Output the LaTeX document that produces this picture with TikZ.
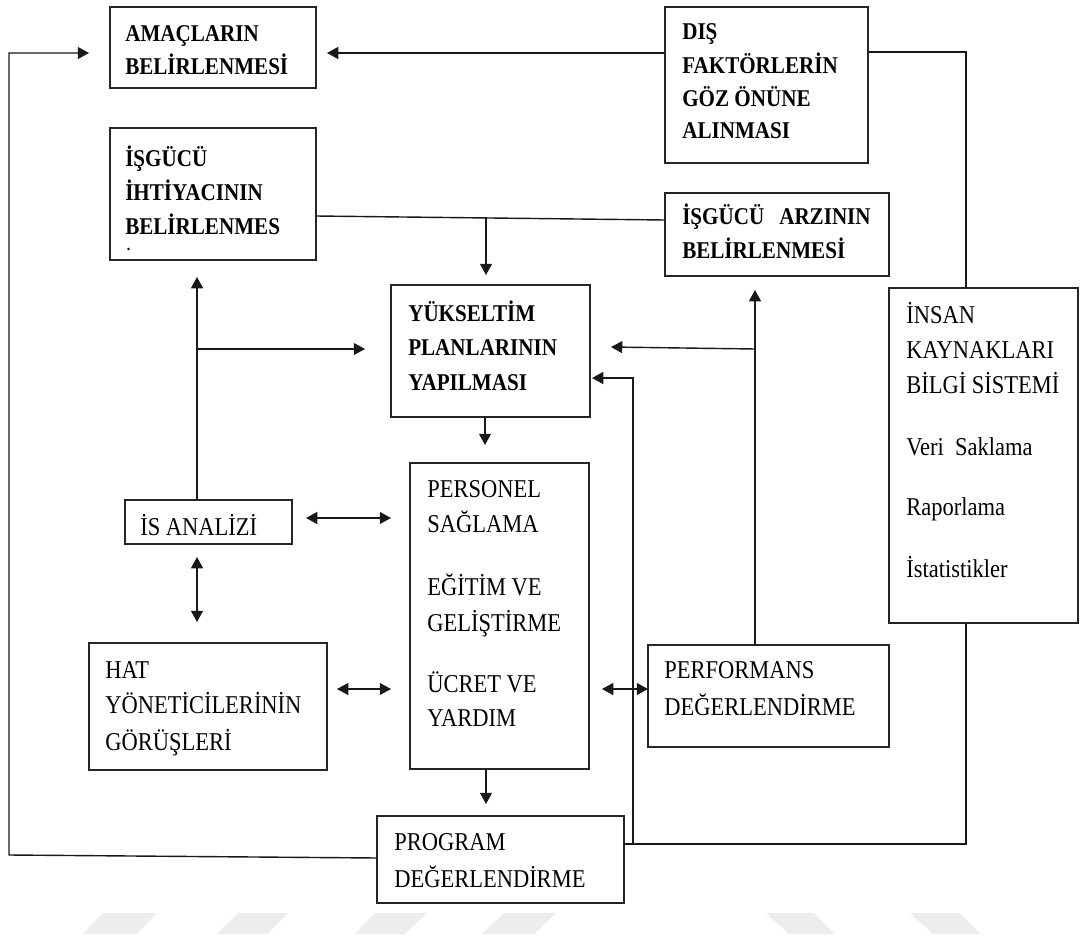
\documentclass[tikz,border=0pt]{standalone}
\usepackage{fontspec}
\usepackage{graphicx}
\setmainfont{Liberation Serif}
\usetikzlibrary{arrows.meta,fit,calc}
\newcommand\vst[1]{\scalebox{1}[1.14]{#1}}
\begin{document}
\begin{tikzpicture}[x=0.025cm,y=-0.025cm,
  box/.style={draw=black!85,line width=1.1pt,inner sep=0pt,outer sep=0pt,rectangle},
  bt/.style={anchor=base west,inner sep=0pt,font=\bfseries\fontsize{15}{18}\selectfont},
  rt/.style={anchor=base west,inner sep=0pt,font=\fontsize{16}{19}\selectfont},
  ln/.style={draw=black!90,line width=1pt},
  arr/.style={ln,-{Triangle[length=8pt,width=8.5pt]}},
  darr/.style={ln,{Triangle[length=8pt,width=8.5pt]}-{Triangle[length=8pt,width=8.5pt]}},
  wm/.style={fill=black!7,draw=none}]
\useasboundingbox (0,0) rectangle (1080,940);
\fill[white] (0,0) rectangle (1080,940);

% watermark
\fill[wm] (83,934) -- (136,934) -- (157,913) -- (103,913) -- cycle;
\fill[wm] (217,934) -- (267,934) -- (288,913) -- (238,913) -- cycle;
\fill[wm] (355,934) -- (405,934) -- (427,913) -- (375,913) -- cycle;
\fill[wm] (482,934) -- (534,934) -- (556,913) -- (504,913) -- cycle;
\fill[wm] (789,934) -- (835,934) -- (814,913) -- (766,913) -- cycle;
\fill[wm] (933,934) -- (981,934) -- (959,913) -- (910,913) -- cycle;

% boxes
\node[box,fit={(110,7) (316,88)}] (amac) {};
\node[box,fit={(665,7) (868,163)}] (dis) {};
\node[box,fit={(110,128) (316,260)}] (ihti) {};
\node[box,fit={(665,193) (889,276)}] (arz) {};
\node[box,fit={(391,285) (590,417)}] (yuk) {};
\node[box,fit={(889,288) (1078,623)}] (insan) {};
\node[box,fit={(125,500) (292,544)}] (isan) {};
\node[box,fit={(410,463) (589,769)}] (pers) {};
\node[box,fit={(89,643) (327,770)}] (hat) {};
\node[box,fit={(648,645) (889,747)}] (perf) {};
\node[box,fit={(377,816) (624,903)}] (prog) {};

% texts
\node[bt] (amac1) at (125,41) {\vst{AMAÇLARIN}};
\node[bt] (amac2) at (125,74) {\vst{BELİRLENMESİ}};
\node[bt] (dis1) at (682,39) {\vst{DIŞ}};
\node[bt] (dis2) at (682,73) {\vst{FAKTÖRLERİN}};
\node[bt] (dis3) at (682,106) {\vst{GÖZ ÖNÜNE}};
\node[bt] (dis4) at (682,138) {\vst{ALINMASI}};
\node[bt] (ihti1) at (125,166) {\vst{İŞGÜCÜ}};
\node[bt] (ihti2) at (125,200) {\vst{İHTİYACININ}};
\node[bt] (ihti3) at (125,234) {\vst{BELİRLENMES}};
\fill (128.5,249) circle (1.3);
\node[bt] (arz1) at (682,224) {\vst{\makebox[134pt][s]{İŞGÜCÜ\hfill ARZININ}}};
\node[bt] (arz2) at (682,258) {\vst{BELİRLENMESİ}};
\node[bt] (yuk1) at (408,321) {\vst{YÜKSELTİM}};
\node[bt] (yuk2) at (408,355) {\vst{PLANLARININ}};
\node[bt] (yuk3) at (408,390) {\vst{YAPILMASI}};
\node[rt] (pers1) at (427,497) {\vst{PERSONEL}};
\node[rt] (pers2) at (427,532) {\vst{SAĞLAMA}};
\node[rt] (pers3) at (427,595) {\vst{EĞİTİM VE}};
\node[rt] (pers4) at (427,631) {\vst{GELİŞTİRME}};
\node[rt] (pers5) at (427,692) {\vst{ÜCRET VE}};
\node[rt] (pers6) at (427,726) {\vst{YARDIM}};
\node[rt] (isan1) at (140,535) {\vst{İS ANALİZİ}};
\node[rt] (hat1) at (105,678) {\vst{HAT}};
\node[rt] (hat2) at (105,713) {\vst{YÖNETİCİLERİNİN}};
\node[rt] (hat3) at (105,750) {\vst{GÖRÜŞLERİ}};
\node[rt] (perf1) at (664,678) {\vst{PERFORMANS}};
\node[rt] (perf2) at (664,715) {\vst{DEĞERLENDİRME}};
\node[rt] (prog1) at (394,850) {\vst{PROGRAM}};
\node[rt] (prog2) at (394,887) {\vst{DEĞERLENDİRME}};
\node[rt] (ins1) at (906,323) {\vst{İNSAN}};
\node[rt] (ins2) at (906,358) {\vst{KAYNAKLARI}};
\node[rt] (ins3) at (906,393) {\vst{BİLGİ SİSTEMİ}};
\node[rt] (ins4) at (906,455) {\vst{Veri\ \ Saklama}};
\node[rt] (ins5) at (906,515) {\vst{Raporlama}};
\node[rt] (ins6) at (906,577) {\vst{İstatistikler}};

% connectors
\coordinate (lc1) at (9,855);
\coordinate (lc2) at (9,53);
\draw[arr] (prog.west |- 0,858) -- (lc1) -- (lc2) -- ($(amac.west |- 0,53)+(-21,0)$);
\draw[arr] (dis.west |- 0,53) -- ($(amac.east |- 0,53)+(11,0)$);
\draw[ln] (dis.east |- 0,52) -| (insan.north -| 966,0);
\draw[ln] (ihti.east |- 0,216) -- (arz.west |- 0,220);
\coordinate (j1) at (486,216.7);
\draw[arr] (j1) -- ($(yuk.north -| j1)+(0,-10)$);
\draw[arr] (isan.north -| 197,0) -- ($(ihti.south -| 197,0)+(0,17)$);
\coordinate (j2) at (197,349);
\draw[arr] (j2) -- ($(yuk.west |- j2)+(-26,0)$);
\draw[darr] ($(isan.east |- 0,518)+(14,0)$) -- ($(pers.west |- 0,518)+(-19,0)$);
\draw[darr] ($(isan.south -| 197,0)+(0,13)$) -- ($(hat.north -| 197,0)+(0,-21)$);
\draw[darr] ($(hat.east |- 0,689)+(10,0)$) -- ($(pers.west |- 0,689)+(-19,0)$);
\draw[arr] (yuk.south -| 485,0) -- ($(pers.north -| 485,0)+(0,-18)$);
\draw[arr] (pers.south -| 486,0) -- ($(prog.north -| 486,0)+(0,-12)$);
\draw[darr] ($(pers.east |- 0,689)+(13,0)$) -- (perf.west |- 0,689);
\draw[arr] (perf.north -| 755,0) -- ($(arz.south -| 755,0)+(0,14)$);
\coordinate (j3) at (755,349);
\draw[arr] (j3) -- ($(yuk.east |- 0,347)+(21,0)$);
\draw[ln] (prog.east |- 0,844) -| (insan.south -| 966,0);
\coordinate (j4) at (633,844);
\draw[arr] (j4) |- ($(yuk.east |- 0,378)+(2,0)$);
\end{tikzpicture}
\end{document}
